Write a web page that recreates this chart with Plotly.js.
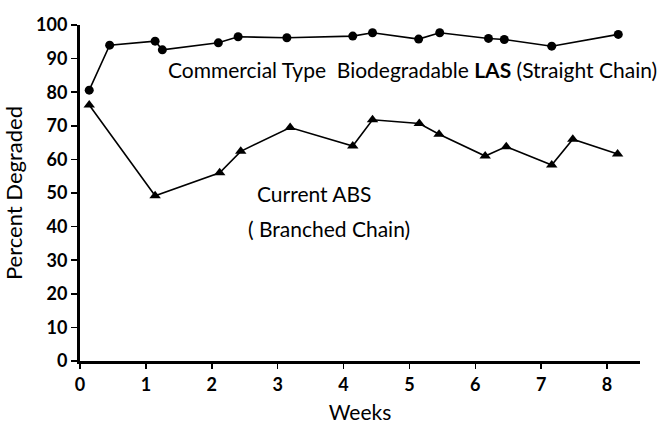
<!DOCTYPE html>
<html><head><meta charset="utf-8">
<script src="https://cdn.plot.ly/plotly-3.0.1.min.js"></script>
<style>body{margin:0;background:#fff}#c{width:658px;height:424px}</style>
</head><body><div id="c"></div>
<script>
const lasWeeks = [0.14, 0.45, 1.14, 1.25, 2.10, 2.40, 3.14, 4.14, 4.44, 5.14, 5.46, 6.20, 6.44, 7.16, 8.17];
const lasPct   = [80.6, 94.0, 95.2, 92.6, 94.7, 96.5, 96.2, 96.7, 97.7, 95.8, 97.7, 96.0, 95.7, 93.7, 97.2];
const absWeeks = [0.14, 1.14, 2.12, 2.44, 3.19, 4.14, 4.44, 5.15, 5.45, 6.15, 6.47, 7.16, 7.48, 8.16];
const absPct   = [76.2, 49.2, 56.0, 62.4, 69.5, 64.0, 71.8, 70.7, 67.5, 61.0, 63.8, 58.3, 66.0, 61.6];
const xTicks = [0,1,2,3,4,5,6,7,8];
const yTicks = [0,10,20,30,40,50,60,70,80,90,100];
const labelLAS = "Commercial Type  Biodegradable <b>LAS</b> (Straight Chain)";
const labelABS1 = "Current ABS";
const labelABS2 = "( Branched Chain)";

const font = "Lato, 'DejaVu Sans', sans-serif";
const traces = [
  {x: lasWeeks, y: lasPct, mode: 'lines+markers', line:{color:'#000', width:1.6},
   marker:{symbol:'circle', size:9, color:'#000'}, cliponaxis:false},
  {x: absWeeks, y: absPct, mode: 'lines+markers', line:{color:'#000', width:1.6},
   marker:{symbol:'triangle-up', size:10, color:'#000'}, cliponaxis:false}
];
const px2x = p => (p-80)/560, px2y = p => (360.7-p)/335.7;
const layout = {
  width:658, height:424, showlegend:false,
  margin:{l:80, r:18, t:25, b:63},
  paper_bgcolor:'#fff', plot_bgcolor:'#fff',
  font:{family:font, color:'#000', size:16},
  xaxis:{range:[0,8.5], tickvals:xTicks, ticktext:xTicks.map(String), showgrid:false, zeroline:false,
    showline:true, linecolor:'#000', linewidth:3, ticks:'outside', ticklen:5, tickwidth:1.5, tickcolor:'#000',
    tickfont:{size:18, weight:'bold'}, title:{text:'Weeks', font:{size:21}, standoff:12}},
  yaxis:{range:[0,100], tickvals:yTicks, ticktext:yTicks.map(String), showgrid:false, zeroline:false,
    showline:true, linecolor:'#000', linewidth:3, ticks:'outside', ticklen:6, tickwidth:1.5, tickcolor:'#000',
    tickfont:{size:18, weight:'bold'}, title:{text:'Percent Degraded', font:{size:22}, standoff:8}},
  annotations:[
    {xref:'paper', yref:'paper', x:px2x(166), y:px2y(69), xanchor:'left', yanchor:'middle',
     text:labelLAS, showarrow:false, font:{size:21}},
    {xref:'paper', yref:'paper', x:px2x(255), y:px2y(193), xanchor:'left', yanchor:'middle',
     text:labelABS1, showarrow:false, font:{size:21}},
    {xref:'paper', yref:'paper', x:px2x(246), y:px2y(228), xanchor:'left', yanchor:'middle',
     text:labelABS2, showarrow:false, font:{size:21}}
  ]
};
Plotly.newPlot('c', traces, layout, {displayModeBar:false, staticPlot:true});
</script></body></html>
